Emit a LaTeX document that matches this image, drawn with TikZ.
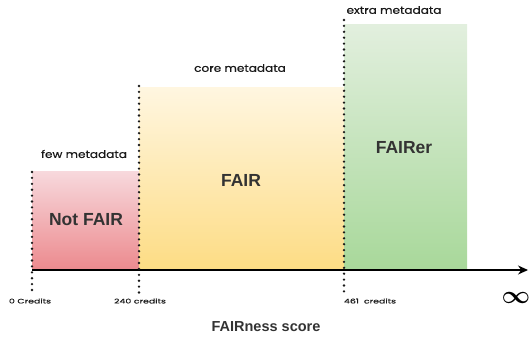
\documentclass[tikz,border=0pt]{standalone}
\usepackage{amsmath}
\usepackage{fontspec}
\setmainfont{Liberation Sans}
\newfontfamily\labelfont[FakeStretch=1.15, FakeBold=0.6]{Poppins}
\newfontfamily\creditfont[FakeStretch=1.45, FakeBold=0.6]{Poppins}
\usetikzlibrary{arrows.meta}
\usetikzlibrary{positioning}
\definecolor{pinktop}{RGB}{247,216,220}
\definecolor{pinkbot}{RGB}{236,138,142}
\definecolor{yellowtop}{RGB}{255,246,224}
\definecolor{yellowbot}{RGB}{253,220,132}
\definecolor{greentop}{RGB}{226,239,222}
\definecolor{greenbot}{RGB}{168,216,154}
\tikzstyle{bar} = [rectangle, inner sep=0pt, anchor=south west, draw=none]
\tikzstyle{level} = [font=\bfseries\fontsize{17.5}{19}\selectfont, text=black!80]
\tikzstyle{meta} = [font=\labelfont\fontsize{10.5}{12}\selectfont, text=black!90]
\tikzstyle{credit} = [font=\creditfont\fontsize{6.5}{8}\selectfont, text=black!90]
\tikzstyle{bound} = [line width=2.6pt, dash pattern=on 0pt off 5.9pt, line cap=round, black!90]
\tikzstyle{arrow} = [line width=1.2pt, -{Stealth[length=10pt, width=9pt]}]

\begin{document}
\begin{tikzpicture}[x=1pt, y=-1pt]
    \useasboundingbox (0,0) rectangle (529,342);
    \node (notfair) [bar, minimum width=107pt, minimum height=98pt, top color=pinktop, bottom color=pinkbot] at (32,270) {};
    \node (fair) [bar, minimum width=205pt, minimum height=182pt, top color=yellowtop, bottom color=yellowbot] at (139,270) {};
    \node (fairer) [bar, minimum width=123pt, minimum height=245pt, top color=greentop, bottom color=greenbot] at (344,270) {};

    \coordinate (origin) at (32,270);
    \coordinate (end) at (528,270);
    \draw[arrow] (origin) -- (end);

    \coordinate (b0top) at (32,172);
    \coordinate (b0bot) at (32,294);
    \coordinate (b1top) at (139,86);
    \coordinate (b1bot) at (139,294);
    \coordinate (b2top) at (344,20);
    \coordinate (b2bot) at (344,294);
    \draw[bound] (b0top) -- (b0bot);
    \draw[bound] (b1top) -- (b1bot);
    \draw[bound] (b2top) -- (b2bot);

    \node (lnotfair) [level] at (86,220) {Not FAIR};
    \node (lfair) [level] at (241,180) {FAIR};
    \node (lfairer) [level] at (404,148) {FAIRer};

    \node (few) [meta] at (84,154) {few metadata};
    \node (core) [meta] at (240,68) {core metadata};
    \node (extra) [meta] at (394,10) {extra metadata};

    \node (c0) [credit] at (30,301) {0 Credits};
    \node (c240) [credit] at (140,301) {240 credits};
    \node (c461) [credit] at (370,301) {461\ \ credits};
    \node (inf) [font=\fontsize{32}{32}\selectfont] at (516,298) {$\boldsymbol{\infty}$};

    \node (score) [font=\bfseries\fontsize{14.5}{16}\selectfont, text=black!80] at (266,327) {FAIRness score};
\end{tikzpicture}
\end{document}
